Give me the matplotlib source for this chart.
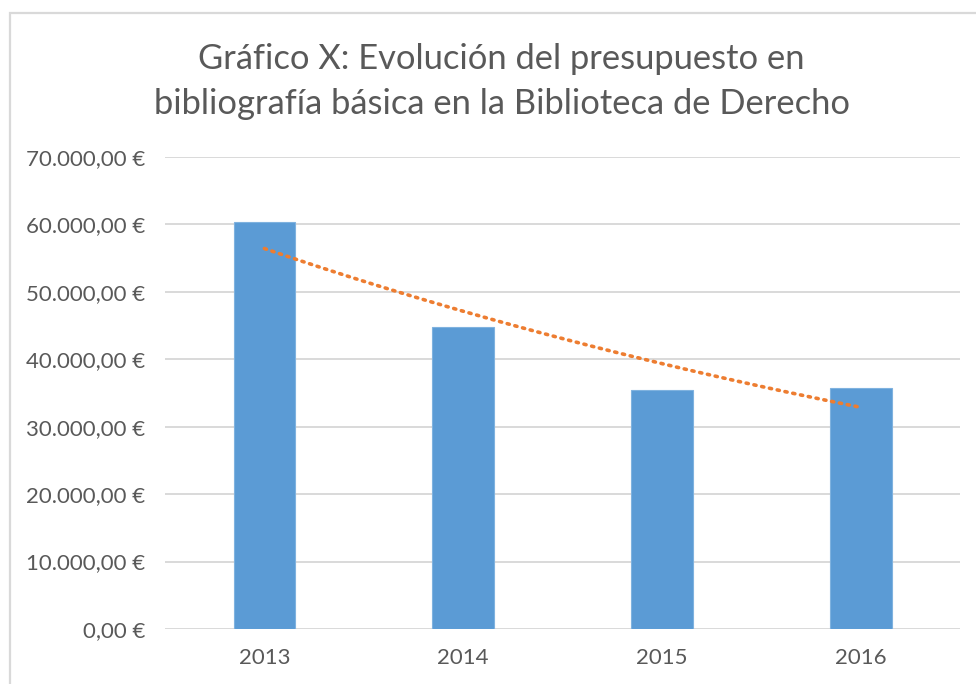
import matplotlib
matplotlib.use("Agg")
import matplotlib.pyplot as plt
from matplotlib.patches import Rectangle
from matplotlib.ticker import FuncFormatter
import numpy as np

# Data
years = ["2013", "2014", "2015", "2016"]
budget = [60400, 44800, 35500, 35800]
y_ticks = [0, 10000, 20000, 30000, 40000, 50000, 60000, 70000]

TEXT = "#595959"
BAR = "#5B9BD5"
TREND = "#ED7D31"
GRID = "#D9D9D9"

plt.rcParams["font.family"] = ["Lato", "DejaVu Sans"]


def euro(v, pos=None):
    s = f"{v:,.2f}".replace(",", "X").replace(".", ",").replace("X", ".")
    return s + " €"


fig = plt.figure(figsize=(9.76, 6.84), dpi=100)
ax = fig.add_axes([0.169, 0.0804, 0.815, 0.6901])

x = np.arange(len(years))
ax.bar(x, budget, width=0.31, color=BAR, edgecolor="#7FB2DF", linewidth=0.8, zorder=2)

# Exponential trendline (least squares on log values, like Excel)
b, a = np.polyfit(x, np.log(budget), 1)
xs = np.linspace(x[0], x[-1], 100)
ax.plot(xs, np.exp(a + b * xs), color=TREND, linestyle=(0, (0.6, 1.6)),
        linewidth=2.6, dash_capstyle="round", zorder=3)

ax.set_xlim(-0.5, len(years) - 0.5)
ax.set_ylim(0, 70000)
ax.set_yticks(y_ticks)
ax.yaxis.set_major_formatter(FuncFormatter(euro))
ax.set_xticks(x)
ax.set_xticklabels(years)
ax.grid(axis="y", color=GRID, linewidth=1.4, zorder=0)
ax.tick_params(length=0, labelsize=16, colors=TEXT)
ax.tick_params(axis="y", pad=14)
ax.tick_params(axis="x", pad=14)
for sp in ax.spines.values():
    sp.set_visible(False)

fig.text(0.514, 0.881, "Gráfico X: Evolución del presupuesto en\n"
         "bibliografía básica en la Biblioteca de Derecho",
         ha="center", va="center", fontsize=24.8, color=TEXT, linespacing=1.47)

# chart area border (cropped at the right and bottom in the reference)
fig.patches.append(Rectangle((10 / 976, -0.1), 1.2, 0.1 + 1 - 13 / 684,
                             transform=fig.transFigure, fill=False,
                             edgecolor=GRID, linewidth=1.6))

fig.savefig("out.png", dpi=100)
